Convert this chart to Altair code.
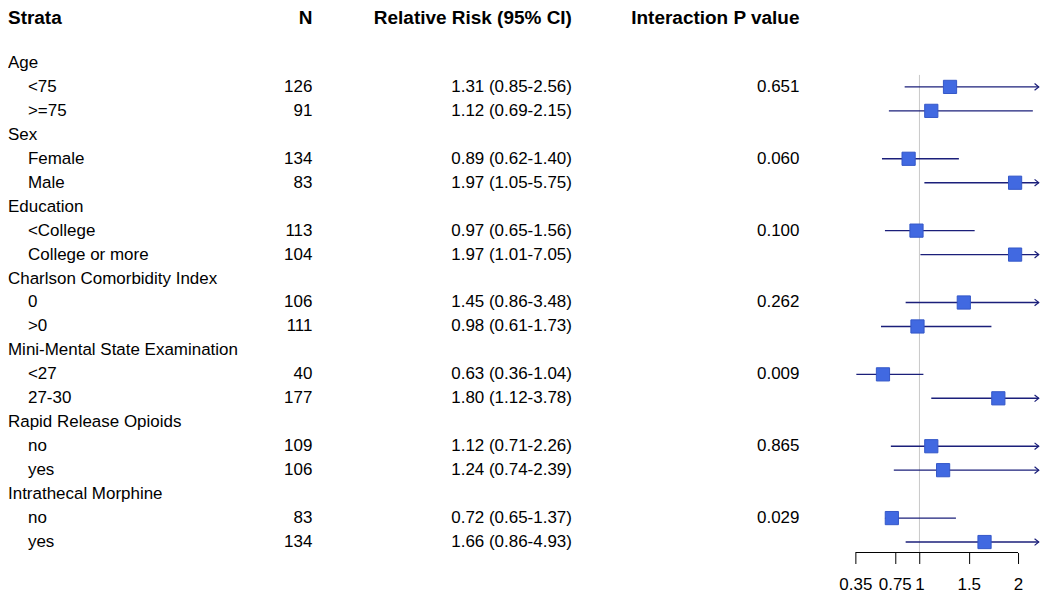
import altair as alt
import pandas as pd

# ---------------- data ----------------
headers = ["Strata", "N", "Relative Risk (95% CI)", "Interaction P value"]
groups = ["Age", "Sex", "Education", "Charlson Comorbidity Index",
          "Mini-Mental State Examination", "Rapid Release Opioids", "Intrathecal Morphine"]
subgroups = [["<75", ">=75"], ["Female", "Male"], ["<College", "College or more"],
             ["0", ">0"], ["<27", "27-30"], ["no", "yes"], ["no", "yes"]]
n_vals = [126, 91, 134, 83, 113, 104, 106, 111, 40, 177, 109, 106, 83, 134]
rr = [1.31, 1.12, 0.89, 1.97, 0.97, 1.97, 1.45, 0.98, 0.63, 1.80, 1.12, 1.24, 0.72, 1.66]
lo = [0.85, 0.69, 0.62, 1.05, 0.65, 1.01, 0.86, 0.61, 0.36, 1.12, 0.71, 0.74, 0.65, 0.86]
hi = [2.56, 2.15, 1.40, 5.75, 1.56, 7.05, 3.48, 1.73, 1.04, 3.78, 2.26, 2.39, 1.37, 4.93]
p_vals = ["0.651", "0.060", "0.100", "0.262", "0.009", "0.865", "0.029"]
axis_ticks = [0.35, 0.75, 1, 1.5, 2]
clip_at = 2.21

# ---------------- tables ----------------
group_rows, sub_rows = [], []
r, k = 2, 0
for gi, g in enumerate(groups):
    group_rows.append({"row": r, "label": g})
    for si, s in enumerate(subgroups[gi]):
        sub_rows.append({
            "row": r + 1 + si, "label": s, "n": str(n_vals[k]),
            "rrtext": f"{rr[k]:.2f} ({lo[k]:.2f}-{hi[k]:.2f})",
            "p": p_vals[gi] if si == 0 else "",
            "rr": rr[k], "lo": lo[k], "hi": hi[k],
            "hi_c": min(hi[k], clip_at), "clipped": hi[k] > clip_at,
        })
        k += 1
    r += 3
gdf = pd.DataFrame(group_rows)
sdf = pd.DataFrame(sub_rows)
hdf = pd.DataFrame({"row": [0], "h0": [headers[0]], "h1": [headers[1]],
                    "h2": [headers[2]], "h3": [headers[3]]})
adf = sdf[sdf["clipped"]]
Y_TOP, Y_BOT = -0.2708, 22.4375
refdf = pd.DataFrame({"x": [1], "y1": [2.5], "y2": [Y_BOT]})
axdf = pd.DataFrame({"a": [min(axis_ticks)], "b": [max(axis_ticks)]})

FONT = "Liberation Sans"
FS = 17
HFS = 19
H = 545
yscale = alt.Scale(domain=[Y_TOP, Y_BOT], reverse=True, nice=False, zero=False)
Y = alt.Y("row:Q", scale=yscale, axis=None)


def txt(df, align):
    return alt.Chart(df).mark_text(align=align, baseline="middle", font=FONT,
                                   fontSize=FS, color="black")


def htxt(align):
    return alt.Chart(hdf).mark_text(align=align, baseline="middle", font=FONT,
                                    fontSize=HFS, color="black", fontWeight="bold",
                                    dy=3)


W1, W2, W3, W4 = 305, 260, 228, 241

p1 = alt.layer(
    htxt("left").encode(x=alt.value(0), y=Y, text="h0:N"),
    htxt("right").encode(x=alt.value(W1), y=Y, text="h1:N"),
    txt(gdf, "left").encode(x=alt.value(0), y=Y, text="label:N"),
    txt(sdf, "left").encode(x=alt.value(20), y=Y, text="label:N"),
    txt(sdf, "right").encode(x=alt.value(W1), y=Y, text="n:N"),
).properties(width=W1, height=H)

p2 = alt.layer(
    htxt("right").encode(x=alt.value(W2), y=Y, text="h2:N"),
    txt(sdf, "right").encode(x=alt.value(W2), y=Y, text="rrtext:N"),
).properties(width=W2, height=H)

p3 = alt.layer(
    htxt("right").encode(x=alt.value(W3), y=Y, text="h3:N"),
    txt(sdf, "right").encode(x=alt.value(W3), y=Y, text="p:N"),
).properties(width=W3, height=H)

xscale = alt.Scale(domain=[-0.2169, 2.2227], nice=False, zero=False)
xaxis = alt.Axis(values=axis_ticks, title=None, domain=False, grid=False,
                 tickColor="black", tickSize=11, tickWidth=1,
                 labelFont=FONT, labelFontSize=FS, labelColor="black",
                 labelPadding=13, labelOverlap=False, labelFlush=False,
                 format="~g")

LINE = "#1b1f7a"
ref = alt.Chart(refdf).mark_rule(color="#c8c8c8", strokeWidth=1).encode(
    x=alt.X("x:Q", scale=xscale, axis=xaxis),
    y=alt.Y("y1:Q", scale=yscale, axis=None), y2="y2:Q")
ci = alt.Chart(sdf).mark_rule(color=LINE, strokeWidth=1.4).encode(
    x=alt.X("lo:Q", scale=xscale, axis=xaxis), x2="hi_c:Q", y=Y)
arrows = alt.Chart(adf).mark_point(
    shape="M-1,-0.8L0,0L-1,0.8", filled=False, stroke=LINE, strokeWidth=1.2,
    size=70, opacity=1).encode(
    x=alt.X("hi_c:Q", scale=xscale, axis=xaxis), y=Y)
squares = alt.Chart(sdf).mark_square(
    size=175, color="#4169E1", stroke="#3457c8", strokeWidth=1, opacity=1).encode(
    x=alt.X("rr:Q", scale=xscale, axis=xaxis), y=Y)
axline = alt.Chart(axdf).mark_rule(color="black", strokeWidth=1).encode(
    x=alt.X("a:Q", scale=xscale, axis=xaxis), x2="b:Q", y=alt.value(H))

p4 = alt.layer(ref, ci, arrows, squares, axline).properties(width=W4, height=H)

chart = alt.hconcat(p1, p2, p3, p4, spacing=0, bounds="flush").properties(
    padding=0, background="white"
).configure_view(strokeWidth=0, stroke="transparent")

chart.save("out.html", embed_options={"renderer": "svg", "actions": False})
